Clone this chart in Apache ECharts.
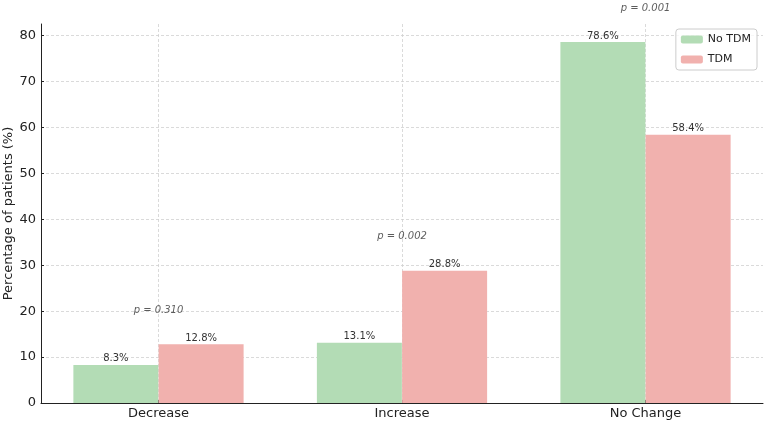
<!DOCTYPE html>
<html>
<head>
<meta charset="utf-8">
<script src="https://cdn.jsdelivr.net/npm/echarts@6/dist/echarts.min.js"></script>
<style>html,body{margin:0;padding:0;background:#fff}#c{width:767px;height:423px}</style>
</head>
<body>
<div id="c"></div>
<script>
const categories = ['Decrease', 'Increase', 'No Change'];
const noTdm = [8.3, 13.1, 78.6];
const tdm = [12.8, 28.8, 58.4];
const pLabels = ['p = 0.310', 'p = 0.002', 'p = 0.001'];
const yTicks = [0, 10, 20, 30, 40, 50, 60, 70, 80];

const halfW = 0.175;
const chart = echarts.init(document.getElementById('c'));
const font = 'DejaVu Sans';
const valueLabel = {
  show: true, position: 'top', distance: 1, fontFamily: font, fontSize: 10, color: '#333',
  formatter: p => p.value[1].toFixed(1) + '%'
};
chart.setOption({
  animation: false,
  grid: { left: 41, right: 4, top: 24, bottom: 20, containLabel: false, outerBoundsMode: 'none' },
  legend: {
    orient: 'vertical', right: 10, top: 29,
    data: ['No TDM', 'TDM'],
    itemWidth: 22, itemHeight: 8, itemGap: 9,
    padding: [5, 6, 5, 5],
    borderColor: '#ccc', borderWidth: 1, borderRadius: 3,
    backgroundColor: 'rgba(255,255,255,0.8)',
    textStyle: { fontFamily: font, fontSize: 11, color: '#222' }
  },
  xAxis: {
    type: 'value', min: -0.4825, max: 2.4825,
    axisLine: { show: true, onZero: false, lineStyle: { color: '#222', width: 1 } },
    axisTick: { show: true, inside: true, length: 3, customValues: [0, 1, 2], lineStyle: { color: '#222' } },
    axisLabel: { customValues: [0, 1, 2], formatter: v => categories[Math.round(v)], fontFamily: font, fontSize: 13, color: '#222', margin: 4 },
    splitLine: { show: true, lineStyle: { type: [3, 2], color: '#d0d0d0', width: 0.8 } }
  },
  yAxis: {
    type: 'value', min: 0, max: 82.53, interval: 10,
    name: 'Percentage of patients (%)', nameLocation: 'middle', nameGap: 26, nameMoveOverlap: false,
    nameTextStyle: { fontFamily: font, fontSize: 13, color: '#222' },
    axisLine: { show: true, onZero: false, lineStyle: { color: '#222', width: 1 } },
    axisTick: { show: true, inside: true, length: 3, customValues: yTicks, lineStyle: { color: '#222' } },
    axisLabel: { customValues: yTicks, fontFamily: font, fontSize: 13, color: '#222', margin: 5 },
    splitLine: { show: true, lineStyle: { type: [3, 2], color: '#d0d0d0', width: 0.8 } }
  },
  series: [
    {
      name: 'No TDM', type: 'bar', barWidth: 85, barGap: '-100%',
      itemStyle: { color: '#b3dcb5' },
      label: valueLabel,
      data: noTdm.map((v, i) => [i - halfW, v])
    },
    {
      name: 'TDM', type: 'bar', barWidth: 85, barGap: '-100%',
      itemStyle: { color: '#f1b1ae' },
      label: valueLabel,
      data: tdm.map((v, i) => [i + halfW, v])
    },
    {
      type: 'scatter', symbolSize: 0, clip: false, silent: true,
      label: {
        show: true, position: 'inside', fontFamily: font, fontSize: 10, fontStyle: 'italic', color: '#333',
        formatter: p => pLabels[p.dataIndex]
      },
      data: categories.map((c, i) => [i, Math.max(noTdm[i], tdm[i]) + 7.4])
    }
  ]
});
</script>
</body>
</html>
